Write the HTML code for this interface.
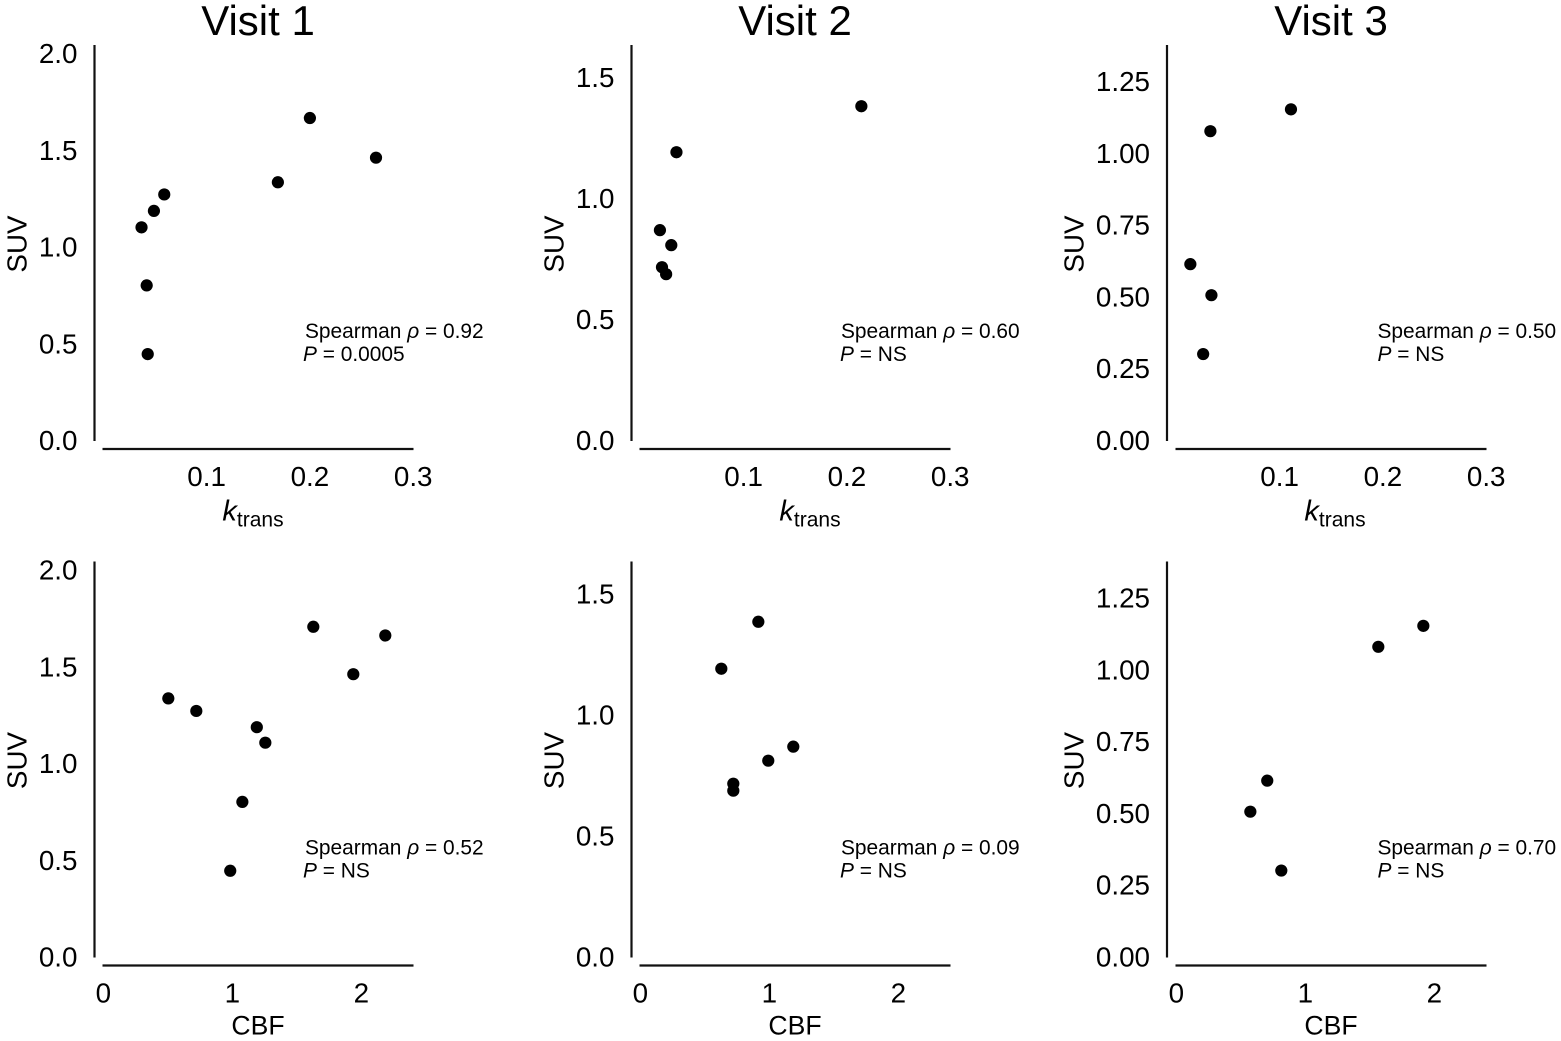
<!DOCTYPE html>
<html lang="en">
<head>
<meta charset="utf-8">
<title>SUV correlation by visit</title>
<style>
html,body{margin:0;padding:0;background:#fff;}
svg{display:block;font-family:"Liberation Sans",Arial,sans-serif;fill:#000;}
</style>
</head>
<body>
<svg id="chart" xmlns="http://www.w3.org/2000/svg" width="1561" height="1041" viewBox="0 0 1561 1041"></svg>
<script>
const visitTitles = ["Visit 1", "Visit 2", "Visit 3"];
const suvTicksVisit1 = ["0.0", "0.5", "1.0", "1.5", "2.0"];
const suvTicksVisit2 = ["0.0", "0.5", "1.0", "1.5"];
const suvTicksVisit3 = ["0.00", "0.25", "0.50", "0.75", "1.00", "1.25"];
const ktransTicks = ["0.1", "0.2", "0.3"];
const cbfTicks = ["0", "1", "2"];

const ktransVisit1 = [0.037, 0.049, 0.059, 0.042, 0.043, 0.169, 0.200, 0.264];
const ktransSuvVisit1 = [1.10, 1.185, 1.27, 0.80, 0.445, 1.333, 1.665, 1.46];
const ktransVisit2 = [0.214, 0.035, 0.019, 0.030, 0.021, 0.025];
const ktransSuvVisit2 = [1.38, 1.19, 0.868, 0.806, 0.715, 0.686];
const ktransVisit3 = [0.033, 0.111, 0.0136, 0.034, 0.026];
const ktransSuvVisit3 = [1.076, 1.152, 0.613, 0.505, 0.30];

const cbfVisit1 = [1.628, 2.186, 1.938, 0.504, 0.721, 1.19, 1.256, 1.078, 0.984];
const cbfSuvVisit1 = [1.705, 1.66, 1.46, 1.335, 1.27, 1.186, 1.106, 0.80, 0.444];
const cbfVisit2 = [0.915, 0.628, 1.186, 0.992, 0.721, 0.721];
const cbfSuvVisit2 = [1.384, 1.19, 0.868, 0.81, 0.715, 0.686];
const cbfVisit3 = [1.915, 1.566, 0.705, 0.574, 0.814];
const cbfSuvVisit3 = [1.152, 1.079, 0.613, 0.505, 0.30];

const rhoKtrans = ["0.92", "0.60", "0.50"];
const pKtrans = ["0.0005", "NS", "NS"];
const rhoCbf = ["0.52", "0.09", "0.70"];
const pCbf = ["NS", "NS", "NS"];

const NS = "http://www.w3.org/2000/svg";
const svg = document.getElementById("chart");

function make(tag, attrs, text) {
  const el = document.createElementNS(NS, tag);
  for (const k in attrs) el.setAttribute(k, attrs[k]);
  if (text !== undefined) el.textContent = text;
  return el;
}

function drawPanel(col, row, xs, ys, yTicks, suvPerUnit, xTicks, xPerUnit, rho, p) {
  const offset = [0, 537, 1073][col];
  const rowY = row * 516.5;
  const axisX = [94.5, 631.5, 1167][col];
  const xZero = 103.3 + offset;
  const yZero = 440 + rowY;
  const sx = function (v) { return xZero + v * xPerUnit; };
  const sy = function (v) { return yZero - v * suvPerUnit; };
  const kind = row === 0 ? "ktrans" : "cbf";
  const prefix = "visit-" + (col + 1) + "-" + kind;

  const g = make("g", {});
  
  
  svg.appendChild(g);

  const yAxis = make("line", { x1: axisX, x2: axisX, y1: 45 + rowY, y2: 441 + rowY, stroke: "#111", "stroke-width": 2.2 });
  
  
  g.appendChild(yAxis);

  const xAxis = make("line", { x1: 102.5 + offset, x2: 413.5 + offset, y1: 449 + rowY, y2: 449 + rowY, stroke: "#111", "stroke-width": 2.2 });
  
  
  g.appendChild(xAxis);

  yTicks.forEach(function (label) {
    const t = make("text", { x: axisX - 17, y: sy(parseFloat(label)) + 10, "text-anchor": "end", "font-size": 27.8 }, label);
    
    
    g.appendChild(t);
  });

  xTicks.forEach(function (label) {
    const t = make("text", { x: sx(parseFloat(label)), y: 486 + rowY, "text-anchor": "middle", "font-size": 27.8 }, label);
    
    
    g.appendChild(t);
  });

  const yTitleX = [26.5, 563.5, 1083.5][col];
  const yTitle = make("text", { transform: "translate(" + yTitleX + " " + (244 + rowY) + ") rotate(-90)", "text-anchor": "middle", "font-size": 27.8 }, "SUV");
  
  
  g.appendChild(yTitle);

  const xTitle = make("text", { x: (row === 0 ? [253, 810, 1335][col] : 258 + offset), y: row === 0 ? 520.5 : 1034.5, "text-anchor": "middle", "font-size": row === 0 ? 29 : 26.6 });
  
  
  if (row === 0) {
    xTitle.appendChild(make("tspan", { "font-style": "italic" }, "k"));
    xTitle.appendChild(make("tspan", { dy: 6, "font-size": 21 }, "trans"));
  } else {
    xTitle.textContent = "CBF";
  }
  g.appendChild(xTitle);

  xs.forEach(function (v, i) {
    const c = make("circle", { cx: sx(v), cy: sy(ys[i]) + 0.2, r: 6.1, fill: "#000" });
    
    
    g.appendChild(c);
  });

  const rhoText = make("text", { x: [305, 841, 1377.5][col], y: 338 + rowY, "font-size": 20.9 });
  
  
  rhoText.appendChild(make("tspan", {}, "Spearman "));
  rhoText.appendChild(make("tspan", { "font-style": "italic" }, "\u03C1"));
  rhoText.appendChild(make("tspan", {}, " = " + rho));
  g.appendChild(rhoText);

  const pText = make("text", { x: [303, 840, 1377.5][col], y: 361 + rowY, "font-size": 20.9 });
  
  
  pText.appendChild(make("tspan", { "font-style": "italic" }, "P"));
  pText.appendChild(make("tspan", {}, " = " + p));
  g.appendChild(pText);
}

visitTitles.forEach(function (title, i) {
  const t = make("text", { x: [258, 795, 1331][i], y: 35, "text-anchor": "middle", "font-size": 42 }, title);
  
  
  svg.appendChild(t);
});

const KT = 1033, CB = 129;
const S1 = 193.5, S2 = 242, S3 = 287.2;
drawPanel(0, 0, ktransVisit1, ktransSuvVisit1, suvTicksVisit1, S1, ktransTicks, KT, rhoKtrans[0], pKtrans[0]);
drawPanel(1, 0, ktransVisit2, ktransSuvVisit2, suvTicksVisit2, S2, ktransTicks, KT, rhoKtrans[1], pKtrans[1]);
drawPanel(2, 0, ktransVisit3, ktransSuvVisit3, suvTicksVisit3, S3, ktransTicks, KT, rhoKtrans[2], pKtrans[2]);
drawPanel(0, 1, cbfVisit1, cbfSuvVisit1, suvTicksVisit1, S1, cbfTicks, CB, rhoCbf[0], pCbf[0]);
drawPanel(1, 1, cbfVisit2, cbfSuvVisit2, suvTicksVisit2, S2, cbfTicks, CB, rhoCbf[1], pCbf[1]);
drawPanel(2, 1, cbfVisit3, cbfSuvVisit3, suvTicksVisit3, S3, cbfTicks, CB, rhoCbf[2], pCbf[2]);
</script>
</body>
</html>
